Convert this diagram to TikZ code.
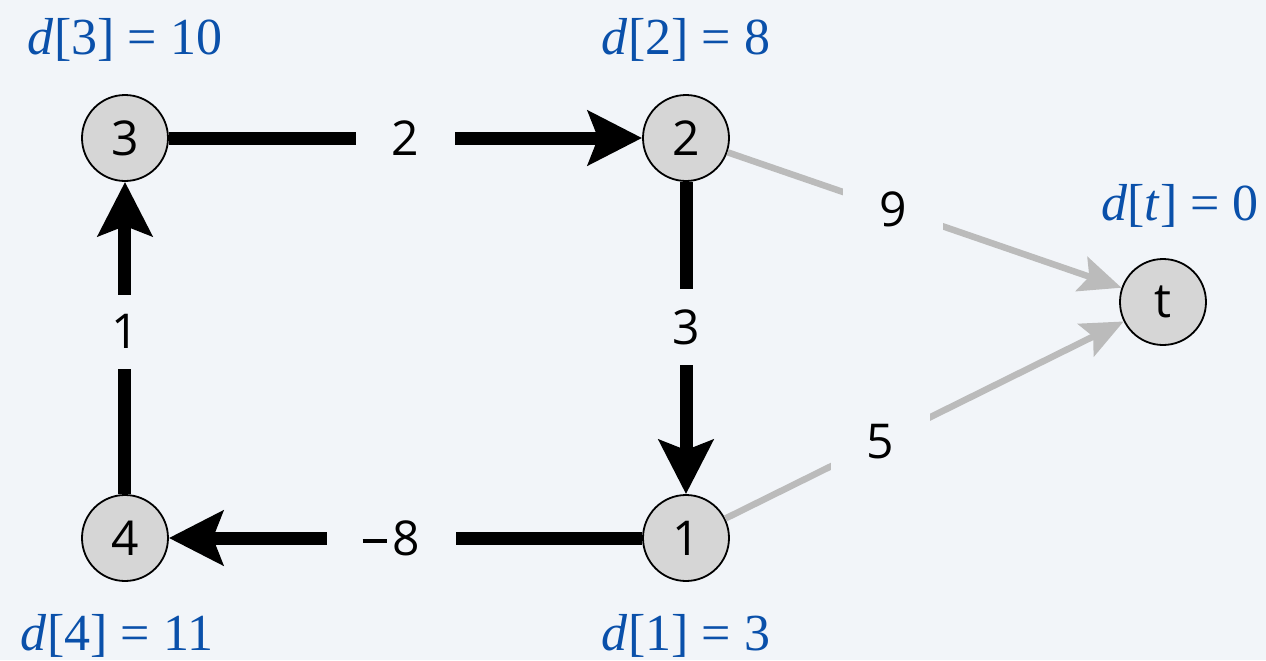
\documentclass[tikz,border=0pt]{standalone}
\usepackage{fontspec}
\setmainfont{Liberation Serif}
\setsansfont{Open Sans}
\usetikzlibrary{positioning,arrows.meta}
\definecolor{bg}{RGB}{242,245,249}
\definecolor{nodegray}{RGB}{214,214,214}
\definecolor{distblue}{RGB}{10,80,170}
\definecolor{edgegray}{RGB}{187,187,187}
\newcommand{\wminus}{\rule[6.2pt]{12pt}{2pt}\kern3pt}
\tikzset{
  vertex/.style={circle,draw,line width=0.9pt,fill=nodegray,minimum size=43pt,inner sep=0pt,font=\sffamily\fontsize{24}{24}\selectfont},
  dist/.style={text=distblue,inner sep=0pt,font=\fontsize{26}{26}\selectfont},
  tight/.style={-{Stealth[length=27pt,width=27pt,inset=5pt]},line width=6.5pt},
  loose/.style={-{Stealth[length=21pt,width=18pt,inset=4pt]},line width=3.25pt,draw=edgegray},
  weight/.style={fill=bg,inner xsep=18pt,inner ysep=10pt,font=\sffamily\fontsize{24}{24}\selectfont}
}

\begin{document}
\begin{tikzpicture}[node distance=200pt and 280.5pt,on grid]
  \fill[bg] (-62.5pt,69pt) rectangle (570.5pt,-261pt);
  \useasboundingbox (-62.5pt,69pt) rectangle (570.5pt,-261pt);

  \node[vertex] (3) at (0,0) {3};
  \node[vertex,right=of 3] (2) {2};
  \node[vertex,below=of 3] (4) {4};
  \node[vertex,below=of 2] (1) {1};
  \node[vertex,below right=82pt and 238.5pt of 2] (t) {t};

  \node[dist,above=49pt of 3] (d3) {\textit{d}[3] = 10};
  \node[dist,above=49pt of 2] (d2) {\textit{d}[2] = 8};
  \node[dist,above=48pt of t,xshift=8.5pt] (dt) {\textit{d}[\textit{t}] = 0};
  \node[dist,below=49pt of 4,xshift=-4pt] (d4) {\textit{d}[4] = 11};
  \node[dist,below=49pt of 1] (d1) {\textit{d}[1] = 3};

  \draw[tight] (3) -- node[weight] (w32) {2} (2);
  \draw[tight] (2) -- node[weight,pos=0.465] (w21) {3} (1);
  \draw[tight] (1) -- node[weight,pos=0.53] (w14) {\wminus8} (4);
  \draw[tight] (4) -- node[weight,pos=0.52] (w43) {1} (3);
  \draw[loose] (2) -- node[weight,pos=0.42] (w2t) {9} (t);
  \draw[loose] (1) -- node[weight,pos=0.39] (w1t) {5} (t);
\end{tikzpicture}
\end{document}
